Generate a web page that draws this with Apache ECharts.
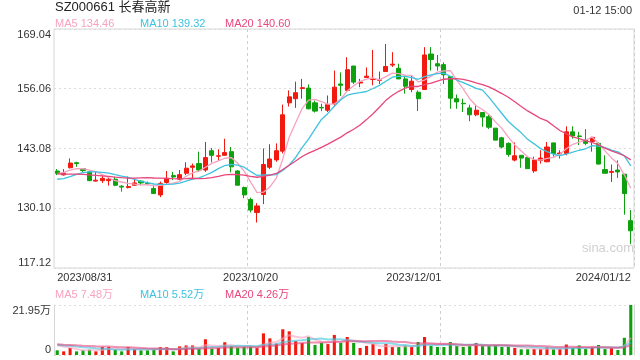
<!DOCTYPE html>
<html><head><meta charset="utf-8">
<script src="https://cdn.jsdelivr.net/npm/echarts@6/dist/echarts.min.js"></script>
<style>html,body{margin:0;padding:0;background:#fff}#c{width:640px;height:360px}</style>
</head><body><div id="c"></div>
<script>
const stockTitle = 'SZ000661 长春高新';
const timeStamp = '01-12 15:00';
const dates = [
 '2023/08/31',
 '2023/09/01','2023/09/04','2023/09/05','2023/09/06','2023/09/07','2023/09/08','2023/09/11','2023/09/12','2023/09/13','2023/09/14',
 '2023/09/15','2023/09/18','2023/09/19','2023/09/20','2023/09/21','2023/09/22','2023/09/25','2023/09/26','2023/09/27','2023/09/28',
 '2023/10/09','2023/10/10','2023/10/11','2023/10/12','2023/10/13','2023/10/16','2023/10/17','2023/10/18','2023/10/19','2023/10/20',
 '2023/10/23','2023/10/24','2023/10/25','2023/10/26','2023/10/27','2023/10/30','2023/10/31',
 '2023/11/01','2023/11/02','2023/11/03','2023/11/06','2023/11/07','2023/11/08','2023/11/09','2023/11/10','2023/11/13','2023/11/14',
 '2023/11/15','2023/11/16','2023/11/17','2023/11/20','2023/11/21','2023/11/22','2023/11/23','2023/11/24','2023/11/27','2023/11/28',
 '2023/11/29','2023/11/30',
 '2023/12/01','2023/12/04','2023/12/05','2023/12/06','2023/12/07','2023/12/08','2023/12/11','2023/12/12','2023/12/13','2023/12/14',
 '2023/12/15','2023/12/18','2023/12/19','2023/12/20','2023/12/21','2023/12/22','2023/12/25','2023/12/26','2023/12/27','2023/12/28',
 '2023/12/29',
 '2024/01/02','2024/01/03','2024/01/04','2024/01/05','2024/01/08','2024/01/09','2024/01/10','2024/01/11','2024/01/12'
];
const openP = [
 138.18,137.35,138.9,140.0,138.7,138.0,136.0,136.1,136.1,136.4,
 134.9,134.6,135.1,136.0,135.5,134.4,133.0,135.7,137.2,136.4,
 137.7,139.0,139.8,138.4,142.6,141.4,141.6,142.4,138.2,134.6,
 132.0,129.2,133.1,139.0,140.6,142.5,153.0,153.9,156.1,156.2,
 153.0,152.0,151.4,152.8,157.1,155.7,161.0,157.3,158.5,158.1,
 157.9,159.8,161.2,160.5,158.2,155.9,155.3,155.9,163.6,161.5,
 161.3,158.7,153.9,152.9,151.9,150.4,150.9,150.0,147.5,145.4,
 144.2,140.56,141.6,141.1,138.2,140.5,140.2,144.3,141.9,142.0,
 146.7,145.8,144.9,144.6,144.2,138.5,137.9,138.4,137.5,127.4
];
const closeP = [
 137.67,137.75,139.91,139.8,138.3,136.1,136.2,136.6,136.4,135.1,
 134.7,134.8,135.6,135.6,135.4,133.3,135.5,136.6,136.9,137.4,
 138.8,139.3,138.4,141.1,141.6,141.5,142.2,139.1,135.1,133.0,
 129.7,130.6,139.6,140.8,142.6,150.4,154.3,155.2,156.3,151.7,
 151.2,151.9,152.6,156.4,156.8,160.2,157.5,157.5,158.8,158.2,
 158.0,160.9,161.4,158.2,156.6,157.7,153.9,163.4,162.4,161.0,
 159.1,154.0,153.2,152.8,150.4,151.4,149.9,147.7,144.9,143.4,
 141.8,141.5,141.0,138.7,140.6,141.0,143.4,142.0,142.1,146.7,
 145.8,145.7,144.2,145.5,139.7,137.7,138.1,138.0,133.3,125.2
];
const lowP = [
 137.31,137.2,138.75,139.1,138.0,136.0,135.9,135.6,135.0,134.9,
 133.7,134.4,135.0,135.1,135.1,133.3,132.5,135.4,136.2,136.2,
 137.3,136.6,138.0,138.0,140.05,140.4,141.5,137.9,135.1,132.3,
 129.2,127.0,131.0,138.6,140.2,142.0,152.2,151.9,153.9,151.6,
 150.9,151.2,151.0,152.1,154.5,155.3,157.1,156.4,158.4,156.8,
 157.1,159.8,160.8,158.2,155.0,155.3,151.2,155.9,160.0,160.0,
 157.1,151.7,151.7,151.0,149.0,150.1,147.8,147.3,144.9,143.1,
 141.3,140.3,138.9,138.7,137.8,139.8,140.1,141.3,140.9,141.6,
 145.2,143.8,143.8,142.4,139.6,137.7,135.8,136.7,128.7,122.3
];
const highP = [
 138.61,138.6,140.92,140.2,138.8,138.2,138.0,137.3,137.0,136.9,
 135.1,137.0,136.6,136.2,135.9,135.1,135.9,138.2,138.0,138.4,
 140.1,139.8,142.4,144.5,143.2,142.9,145.2,143.4,138.4,134.8,
 132.4,131.2,143.1,144.0,144.2,152.6,155.7,157.6,158.2,157.0,
 153.5,152.8,154.6,160.0,159.6,162.9,161.0,158.2,160.7,164.5,
 159.8,165.8,164.0,161.5,158.9,158.9,155.7,165.1,165.1,163.4,
 161.8,158.7,154.8,153.9,152.6,152.6,151.0,150.5,147.5,145.6,
 144.4,144.4,141.6,141.3,141.3,142.7,144.5,144.3,142.7,147.9,
 147.9,146.7,147.3,145.6,144.4,141.6,139.6,140.5,137.5,129.7
];
// volume in 万 (10k shares)
const volume = [
 2.05,1.6,3.1,1.6,2.05,2.3,1.6,3.5,3.5,2.3,
 1.6,3.5,2.6,2.05,2.05,2.3,3.4,3.4,1.6,3.8,
 4.2,4.2,2.6,6.9,2.8,3.1,5.6,3.8,3.2,3.5,
 3.5,3.1,9.5,7.3,5.0,11.3,10.4,6.1,5.3,7.9,
 4.4,5.3,4.8,8.8,5.3,7.9,5.3,3.1,4.0,4.8,
 2.6,4.8,3.5,3.5,4.1,3.5,5.7,7.9,4.0,3.5,
 3.5,5.7,4.0,3.5,4.0,5.3,4.0,4.0,4.4,3.5,
 3.7,3.1,2.5,2.5,2.6,2.6,3.3,2.5,2.6,4.6,
 3.1,4.2,2.6,3.5,4.4,2.6,3.1,2.2,7.55,21.95
];
// estimated closes / volumes of the 19 sessions before the window (needed for moving averages)
const priorCloses = [139.5,140.2,139.8,139.0,138.6,138.2,138.9,138.5,137.9,137.4,136.5,135.6,134.8,134.6,134.5,136.2,137.4,138.3,138.4];
const priorVolumes = [5.2,4.8,5.5,4.9,4.4,5.0,4.6,4.7,5.1,4.3,4.8,4.5,4.9,5.2,4.4,4.6,5.3,4.7,4.9];
const priceTicks = [117.12,130.10,143.08,156.06,169.04];
const markedDates = ['2023/08/31','2023/10/20','2023/12/01','2024/01/12'];
const gridDates = ['2023/10/20','2023/12/01'];
const maPeriods = [5,10,20];
const maColors = ['#f6a3c0','#3dc3e0','#e8467c'];
const upColor = '#f2190f';
const downColor = '#0ea10e';

function movingAvg(series, prior, n) {
  const all = prior.concat(series);
  const off = prior.length;
  return series.map((_, i) => {
    let s = 0;
    for (let k = 0; k < n; k++) s += all[off + i - k];
    return s / n;
  });
}
const F = '"Liberation Sans", Arial, "Noto Sans CJK SC", sans-serif';
const candles = dates.map((d, i) => [openP[i], closeP[i], lowP[i], highP[i]]);
const priceMA = maPeriods.map(n => movingAvg(closeP, priorCloses, n));
const volMA = maPeriods.map(n => movingAvg(volume, priorVolumes, n));
const volMax = Math.max.apply(null, volume);
const volBars = volume.map((v, i) => ({value: v, itemStyle: {color: closeP[i] >= openP[i] ? upColor : downColor}}));
const interval = +(priceTicks[1] - priceTicks[0]).toFixed(2);

const legendX = [55, 140, 225];
const graphics = [
  {type: 'text', left: 55, top: 1, style: {text: stockTitle, font: '13px ' + F, fill: '#222'}},
  {type: 'text', right: 8, top: 5, style: {text: timeStamp, font: '11px ' + F, fill: '#333'}},
  {type: 'text', left: 582, top: 242, style: {text: 'sina.com', font: '13px ' + F, fill: '#d0d0d0'}}
];
maPeriods.forEach((n, k) => {
  const last = priceMA[k][priceMA[k].length - 1];
  graphics.push({type: 'text', left: legendX[k], top: 18, style: {text: 'MA' + n + ' ' + last.toFixed(2), font: '11px ' + F, fill: maColors[k]}});
  const lv = volMA[k][volMA[k].length - 1];
  graphics.push({type: 'text', left: legendX[k], top: 289, style: {text: 'MA' + n + ' ' + lv.toFixed(2) + '万', font: '11px ' + F, fill: maColors[k]}});
});

const splitX = {show: true, interval: (i, v) => gridDates.indexOf(v) >= 0, lineStyle: {color: '#cfcfcf', type: [3, 3], width: 1}};
const option = {
  animation: false,
  textStyle: {fontFamily: F},
  graphic: graphics,
  grid: [
    {left: 54, right: 6, top: 29, height: 239, show: true, borderColor: '#d6d6d6', borderWidth: 1, backgroundColor: 'transparent'},
    {left: 54, right: 6, top: 305, height: 50}
  ],
  xAxis: [
    {type: 'category', data: dates, gridIndex: 0, boundaryGap: true,
     axisLine: {show: false}, axisTick: {show: false},
     axisLabel: {interval: (i, v) => markedDates.indexOf(v) >= 0, color: '#333', fontSize: 11, margin: 4,
                 showMinLabel: true, showMaxLabel: true, alignMinLabel: 'left', alignMaxLabel: 'right', hideOverlap: false,
                 formatter: v => v === markedDates[2] ? '{s|' + v + '}' : v,
                 rich: {s: {color: '#333', fontSize: 11, padding: [0, 60, 0, 0]}}},
     splitLine: splitX},
    {type: 'category', data: dates, gridIndex: 1, boundaryGap: true,
     axisLine: {show: false}, axisTick: {show: false}, axisLabel: {show: false}, splitLine: splitX}
  ],
  yAxis: [
    {type: 'value', gridIndex: 0, min: priceTicks[0], max: priceTicks[priceTicks.length - 1], interval: interval, scale: true,
     axisLine: {show: false}, axisTick: {show: false},
     axisLabel: {color: '#333', fontSize: 11, margin: 3, formatter: v => v.toFixed(2),
                 verticalAlignMinLabel: 'bottom', verticalAlignMaxLabel: 'top'},
     splitLine: {show: true, lineStyle: {color: '#dcdcdc', type: [2, 3]}}},
    {type: 'value', gridIndex: 1, min: 0, max: volMax, interval: volMax,
     axisLine: {show: true, lineStyle: {color: '#d6d6d6'}}, axisTick: {show: false},
     axisLabel: {color: '#333', fontSize: 11, margin: 3, formatter: v => v === 0 ? '0' : v.toFixed(2) + '万',
                 verticalAlignMinLabel: 'bottom', verticalAlignMaxLabel: 'top'},
     splitLine: {show: true, lineStyle: {color: '#dcdcdc', type: [2, 3]}}},
    {type: 'value', gridIndex: 1, position: 'right', min: 0, max: volMax, interval: volMax,
     axisLine: {show: true, lineStyle: {color: '#d6d6d6'}}, axisTick: {show: false}, axisLabel: {show: false}, splitLine: {show: false}}
  ],
  series: [
    {type: 'candlestick', xAxisIndex: 0, yAxisIndex: 0, data: candles, barWidth: '70%',
     itemStyle: {color: upColor, color0: downColor, borderColor: upColor, borderColor0: downColor, borderWidth: 1}}
  ].concat(maPeriods.map((n, k) => ({
    type: 'line', xAxisIndex: 0, yAxisIndex: 0, data: priceMA[k], symbol: 'none', smooth: false,
    lineStyle: {color: maColors[k], width: 1.3}, z: 3
  }))).concat([
    {type: 'bar', xAxisIndex: 1, yAxisIndex: 1, data: volBars, barWidth: '48%'}
  ]).concat(maPeriods.map((n, k) => ({
    type: 'line', xAxisIndex: 1, yAxisIndex: 1, data: volMA[k], symbol: 'none',
    lineStyle: {color: maColors[k], width: 2, opacity: 0.6}, z: 3
  })))
};
const chart = echarts.init(document.getElementById('c'), null, {renderer: 'canvas'});
chart.setOption(option);
</script>
</body></html>
